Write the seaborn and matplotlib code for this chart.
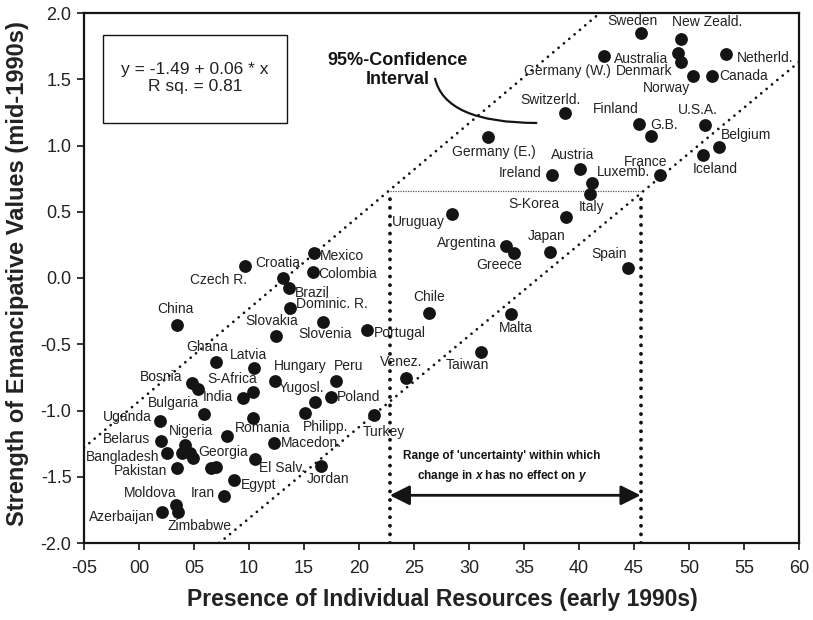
import numpy as np
import pandas as pd
import matplotlib
matplotlib.use("Agg")
import matplotlib.pyplot as plt
import seaborn as sns
from matplotlib.path import Path
from matplotlib.patches import PathPatch, Rectangle

# ---------------- data ----------------
countries = [
    "Sweden", "New Zeald.", "Australia", "Denmark", "Germany (W.)", "Netherld.",
    "Norway", "Canada", "Switzerld.", "Finland", "G.B.", "U.S.A.", "Belgium",
    "Iceland", "Germany (E.)", "Austria", "Ireland", "Luxemb.", "Italy", "France",
    "Uruguay", "S-Korea", "Argentina", "Greece", "Japan", "Spain", "Chile",
    "Malta", "Portugal", "Taiwan", "Venez.", "Mexico", "Croatia", "Colombia",
    "Czech R.", "Brazil", "Dominic. R.", "China", "Slovenia", "Slovakia",
    "Ghana", "Latvia", "Hungary", "Peru", "Bosnia", "", "S-Africa", "India",
    "Yugosl.", "Poland", "Bulgaria", "Uganda", "Romania", "Philipp.", "Turkey",
    "Nigeria", "Belarus", "Macedon.", "Bangladesh", "", "", "", "Georgia", "",
    "", "El Salv.", "Jordan", "Pakistan", "Egypt", "Iran", "Moldova",
    "Zimbabwe", "Azerbaijan",
]
resources = [
    45.61, 49.25, 48.97, 49.25, 42.30, 53.36, 50.34, 52.12, 38.73, 45.48,
    46.52, 51.45, 52.75, 51.30, 31.75, 40.05, 37.59, 41.18, 40.97, 47.36,
    28.48, 38.79, 33.36, 34.06, 37.34, 44.45, 26.36, 33.85, 20.75, 31.09,
    24.27, 15.91, 13.09, 15.79, 9.66, 13.61, 13.75, 3.48, 16.73, 12.48,
    7.00, 10.45, 12.38, 17.88, 4.82, 5.39, 10.39, 9.48, 16.00, 17.44,
    5.88, 1.93, 10.39, 15.09, 21.36, 7.98, 2.03, 12.29, 2.50, 4.20,
    3.95, 4.66, 4.89, 6.57, 7.00, 10.58, 16.50, 3.48, 8.66, 7.77,
    3.36, 3.50, 2.07,
]
emancipative = [
    1.851, 1.804, 1.696, 1.628, 1.675, 1.688, 1.525, 1.527, 1.248, 1.162,
    1.072, 1.155, 0.991, 0.928, 1.066, 0.820, 0.777, 0.717, 0.632, 0.775,
    0.481, 0.463, 0.244, 0.191, 0.196, 0.073, -0.262, -0.272, -0.395, -0.556,
    -0.755, 0.186, 0.002, 0.048, 0.093, -0.075, -0.224, -0.357, -0.334, -0.438,
    -0.636, -0.679, -0.777, -0.781, -0.792, -0.838, -0.857, -0.908, -0.937, -0.900,
    -1.025, -1.079, -1.060, -1.017, -1.034, -1.191, -1.227, -1.247, -1.321, -1.257,
    -1.318, -1.318, -1.355, -1.436, -1.426, -1.368, -1.417, -1.436, -1.522, -1.648,
    -1.715, -1.766, -1.764,
]

x_tick_values = [-5, 0, 5, 10, 15, 20, 25, 30, 35, 40, 45, 50, 55, 60]
x_tick_labels = ["-05", "00", "05", "10", "15", "20", "25", "30", "35", "40",
                 "45", "50", "55", "60"]
y_tick_values = [-2.0, -1.5, -1.0, -0.5, 0.0, 0.5, 1.0, 1.5, 2.0]
y_tick_labels = ["-2.0", "-1.5", "-1.0", "-0.5", "0.0", "0.5", "1.0", "1.5", "2.0"]

# confidence band edges (as drawn)
ci_upper_x = [-5.0, 41.9]
ci_upper_y = [-1.28, 2.0]
ci_lower_x = [7.3, 60.0]
ci_lower_y = [-2.0, 1.63]

# range of uncertainty
range_x = [22.8, 45.6]
range_level = 0.66
arrow_y = -1.64

equation_text = "y = -1.49 + 0.06 * x\nR sq. = 0.81"

# label offsets (pixels, right / down) relative to each dot
label_offsets = {
    "Sweden": (-8, -12), "New Zeald.": (26, -17), "Australia": (-37, 6),
    "Denmark": (-37, 9), "Germany (W.)": (-37, 15), "Netherld.": (39, 4),
    "Norway": (-26, 12), "Canada": (31, 0), "Switzerld.": (-15, -13),
    "Finland": (-24, -15), "G.B.": (13, -11), "U.S.A.": (-7, -15),
    "Belgium": (27, -12), "Iceland": (12, 14), "Germany (E.)": (6, 15),
    "Austria": (-7, -14), "Ireland": (-32, -2), "Luxemb.": (32, -11),
    "Italy": (2, 13), "France": (-14, -13), "Uruguay": (-34, 8),
    "S-Korea": (-32, -13), "Argentina": (-39, -3), "Greece": (-14, 12),
    "Japan": (-3, -16), "Spain": (-19, -14), "Chile": (0, -16),
    "Malta": (5, 14), "Portugal": (33, 3), "Taiwan": (-14, 13),
    "Venez.": (-5, -16), "Mexico": (28, 3), "Croatia": (-5.5, -15),
    "Colombia": (35, 2), "Czech R.": (-27, 14), "Brazil": (24, 5),
    "Dominic. R.": (42, -4), "China": (-2, -16), "Slovenia": (2, 12),
    "Slovakia": (-5, -15), "Ghana": (-9, -15), "Latvia": (-5, -13),
    "Hungary": (25, -15), "Peru": (13, -15), "Bosnia": (-31, -6),
    "S-Africa": (-21, -13), "India": (-25, -1), "Yugosl.": (-14, -14),
    "Poland": (28, 0), "Bulgaria": (-30, -11), "Uganda": (-33, -4),
    "Romania": (9, 10), "Philipp.": (21, 14), "Turkey": (10, 17),
    "Nigeria": (-36, -5), "Belarus": (-35, -2), "Macedon.": (37, 0),
    "Bangladesh": (-44, 4), "Georgia": (30, -6), "El Salv.": (27, 9),
    "Jordan": (8, 13), "Pakistan": (-37, 3), "Egypt": (24, 5),
    "Iran": (-22, -3), "Moldova": (-26, -12), "Zimbabwe": (22, 14),
    "Azerbaijan": (-40, 5),
}

# ---------------- style ----------------
sns.set_style("ticks")
plt.rcParams["font.family"] = ["Liberation Sans", "DejaVu Sans"]
plt.rcParams["mathtext.fontset"] = "custom"
plt.rcParams["mathtext.rm"] = "Liberation Sans:bold"
plt.rcParams["mathtext.it"] = "Liberation Sans:italic:bold"
plt.rcParams["mathtext.bf"] = "Liberation Sans:bold"

INK = "#141414"
TXT = "#222222"

fig = plt.figure(figsize=(8.13, 6.2), dpi=100)
ax = fig.add_axes([84 / 813, 1 - 543 / 620, 715 / 813, 530 / 620])

df = pd.DataFrame({"country": countries, "x": resources, "y": emancipative})
sns.scatterplot(data=df, x="x", y="y", s=85, color=INK, edgecolor=INK,
                linewidth=0, ax=ax, zorder=4, legend=False)

# labels
px2pt = 72 / 100
for c, xv, yv in zip(countries, resources, emancipative):
    if not c:
        continue
    dx, dy = label_offsets[c]
    ax.annotate(c, (xv, yv), xytext=(dx * px2pt, -dy * px2pt),
                textcoords="offset points", ha="center", va="center",
                fontsize=10, color=TXT, zorder=5)

# confidence band lines
dot_kw = dict(color=INK, lw=2.0, dash_capstyle="round", zorder=3)
ax.plot(ci_upper_x, ci_upper_y, linestyle=(0, (0.01, 2.5)), **dot_kw)
ax.plot(ci_lower_x, ci_lower_y, linestyle=(0, (0.01, 2.5)), **dot_kw)

# range of uncertainty
ax.plot(range_x, [range_level, range_level], color="#555555", lw=0.9,
        linestyle=(0, (1, 1)), zorder=2)
for xv in range_x:
    ax.plot([xv, xv], [-2.0, range_level], color=INK, lw=2.8,
            linestyle=(0, (0.01, 2.2)), dash_capstyle="round", zorder=3)
ax.annotate("", xy=(range_x[1], arrow_y), xytext=(range_x[0], arrow_y),
            arrowprops=dict(arrowstyle="<|-|>,head_length=0.8,head_width=0.4",
                            lw=2.0, color=INK, mutation_scale=15,
                            shrinkA=0, shrinkB=0), zorder=4)
ax.text((range_x[0] + range_x[1]) / 2 - 1.2, -1.425,
        "Range of 'uncertainty' within which\n"
        r"change in $\mathit{x}$ has no effect on $\mathit{y}$",
        ha="center", va="center", fontsize=8.5, fontweight="bold",
        linespacing=1.5, color=INK)

# confidence interval annotation
ax.text(23.5, 1.57, "95%-Confidence\nInterval", ha="center", va="center",
        fontsize=13, fontweight="bold", linespacing=1.2, color=INK)
curve = Path([(26.9, 1.51), (27.8, 1.17), (36.2, 1.17)],
             [Path.MOVETO, Path.CURVE3, Path.CURVE3])
ax.add_patch(PathPatch(curve, facecolor="none", edgecolor=INK, lw=1.6, zorder=3))

# equation box
ax.add_patch(Rectangle((0.027, 0.792), 0.257, 0.166, transform=ax.transAxes,
                       facecolor="white", edgecolor=INK, lw=1.0, zorder=3))
ax.text(0.155, 0.877, equation_text, transform=ax.transAxes, ha="center",
        va="center", fontsize=12.5, linespacing=1.15, color=TXT, zorder=4)

# axes
ax.set_xlim(-5, 60)
ax.set_ylim(-2, 2)
ax.set_xticks(x_tick_values)
ax.set_xticklabels(x_tick_labels)
ax.set_yticks(y_tick_values)
ax.set_yticklabels(y_tick_labels)
ax.tick_params(axis="both", labelsize=13, length=5, width=1.2, color=INK,
               labelcolor=TXT, direction="out")
ax.tick_params(axis="x", pad=7)
ax.tick_params(axis="y", pad=4)
for sp in ax.spines.values():
    sp.set_linewidth(1.6)
    sp.set_color(INK)
ax.set_xlabel("Presence of Individual Resources (early 1990s)", fontsize=16.5,
              fontweight="bold", color=TXT)
ax.set_ylabel("Strength of Emancipative Values (mid-1990s)", fontsize=17,
              fontweight="bold", color=TXT)
ax.xaxis.set_label_coords(0.5007, -0.085)
ax.yaxis.set_label_coords(-0.077, 0.508)

fig.savefig("out.png", dpi=100)
